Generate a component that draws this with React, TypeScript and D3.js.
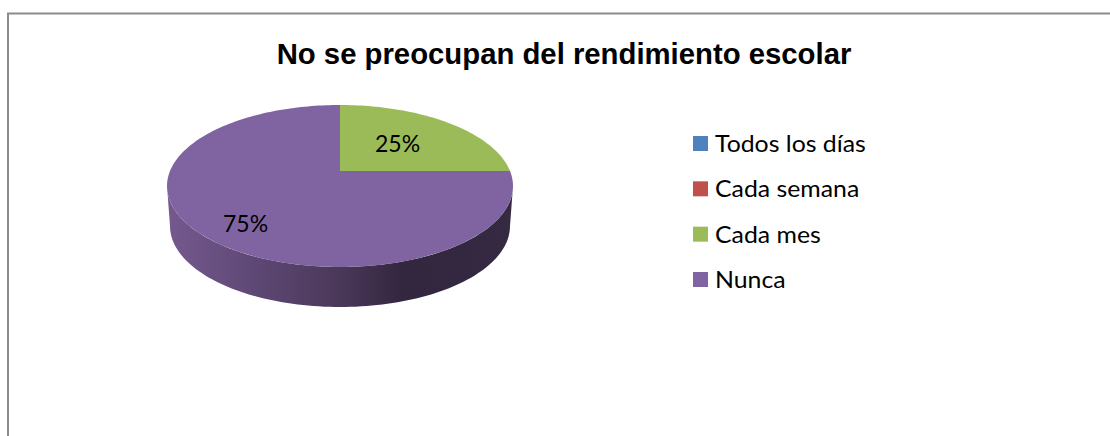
import React from "react";
import * as d3 from "d3";

const categories = ["Todos los días", "Cada semana", "Cada mes", "Nunca"];
const seriesValues = [0, 0, 25, 75];
const sliceColors = ["#4F81BD", "#C0504D", "#9BBB59", "#8064A2"];
const sideStops = [
  { at: 0, color: "#75598F" },
  { at: 0.25, color: "#5E4875" },
  { at: 0.5, color: "#4A3859" },
  { at: 0.68, color: "#33263F" },
  { at: 1, color: "#352A42" },
];
const titleText = "No se preocupan del rendimiento escolar";

const W = 1110;
const H = 436;
const cx = 340;
const topY = 186;
const rx = 173;
const ry = 81;
const depth = 40;
const tilt = -0.185;

function project(angle: number): [number, number] {
  const u = Math.sin(angle);
  const v = -Math.cos(angle);
  const d = 1 + tilt * v;
  return [cx + (rx * u * Math.sqrt(1 - tilt * tilt)) / d, topY + (ry * (v + tilt)) / d];
}
const hub: [number, number] = [cx, topY + ry * tilt];

function slicePath(a0: number, a1: number) {
  const n = Math.max(2, Math.ceil((a1 - a0) * 40));
  const pts: [number, number][] = [hub];
  d3.range(n + 1).forEach((i) => pts.push(project(a0 + ((a1 - a0) * i) / n)));
  return d3.line()(pts) + "Z";
}

function sidePath() {
  const xs = d3.range(0, 101).map((i) => (Math.PI * i) / 100);
  const upper = xs.map((t): [number, number] => [cx + rx * Math.cos(t), topY + ry * Math.sin(t)]);
  const lower = xs
    .map((t): [number, number] => [cx + (rx - 3) * Math.cos(t), topY + depth + ry * Math.sin(t)])
    .reverse();
  return d3.line()([...upper, ...lower]) + "Z";
}

export default function App() {
  const arcs = d3.pie<number>().sort(null)(seriesValues);
  const legendY = d3.scalePoint<string>().domain(categories).range([143, 279]);
  const labelPos: [number, number][] = [
    [397.5, 143],
    [245.5, 223],
  ];
  const visible = arcs.filter((a) => a.value > 0);
  return (
    <svg
      width={W}
      height={H}
      style={{ position: "absolute", left: 0, top: 0, display: "block", background: "#fff" }}
    >
      <defs>
        <linearGradient id="side" x1="0" x2="1" y1="0" y2="0">
          {sideStops.map((s) => (
            <stop key={s.at} offset={s.at} stopColor={s.color} />
          ))}
        </linearGradient>
      </defs>
      <path d={`M8 ${H}V13.5H${W}`} fill="none" stroke="#8C8C8C" strokeWidth={2} />
      <text
        x={564}
        y={64}
        textAnchor="middle"
        fontFamily="'Liberation Sans', Arial, sans-serif"
        fontWeight="bold"
        fontSize={29.3}
      >
        {titleText}
      </text>
      <path d={sidePath()} fill="url(#side)" />
      {visible.map((a) => (
        <path key={a.index} d={slicePath(a.startAngle, a.endAngle)} fill={sliceColors[a.index]} />
      ))}
      {visible.map((a, i) => (
        <text
          key={a.index}
          x={labelPos[i][0]}
          y={labelPos[i][1]}
          textAnchor="middle"
          dominantBaseline="central"
          fontFamily="Lato, sans-serif"
          fontSize={23}
        >
          {Math.round((a.value / d3.sum(seriesValues)) * 100)}%
        </text>
      ))}
      {categories.map((c, i) => (
        <g key={c}>
          <rect x={693} y={legendY(c)! - 7} width={15} height={15} fill={sliceColors[i]} />
          <text
            transform={`translate(715,${legendY(c)!}) scale(1.08,1)`}
            dominantBaseline="central"
            fontFamily="Lato, sans-serif"
            fontSize={23}
          >
            {c}
          </text>
        </g>
      ))}
    </svg>
  );
}
